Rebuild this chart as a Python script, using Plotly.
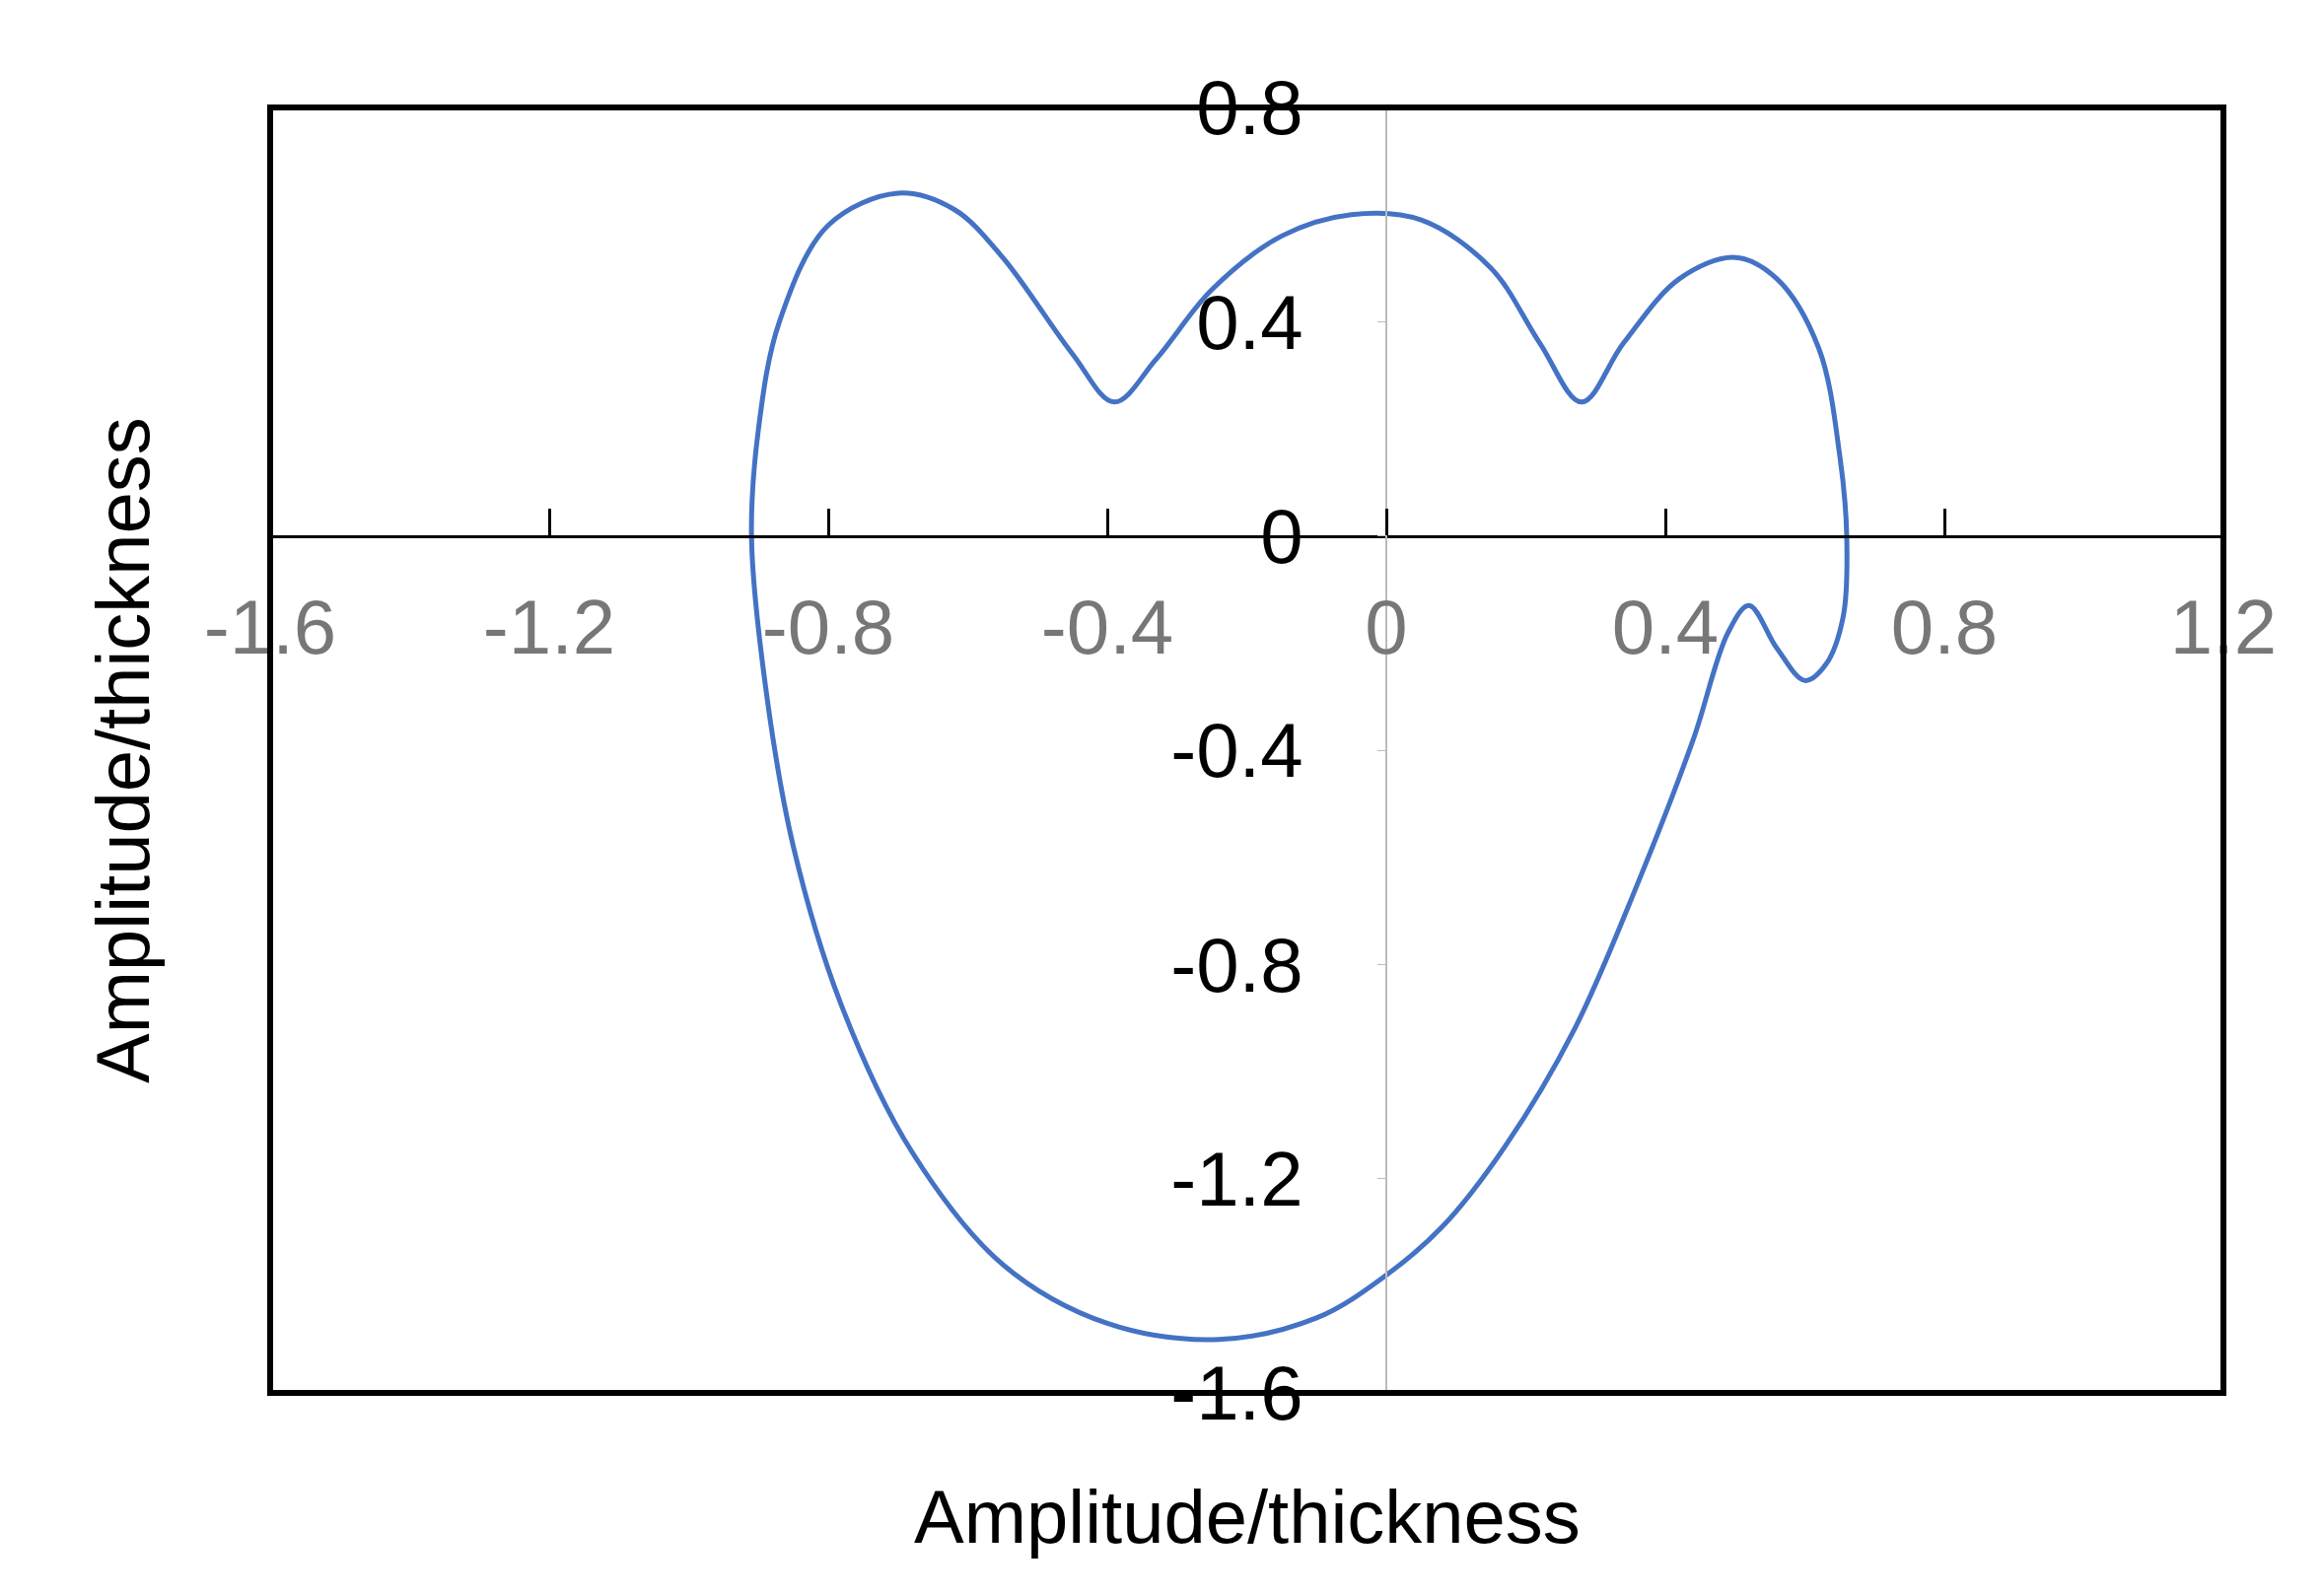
import plotly.graph_objects as go

x_vals = [-0.91, -0.90, -0.87, -0.80, -0.70, -0.62, -0.55, -0.45, -0.39, -0.33, -0.25, -0.15, -0.05, 0.05, 0.15, 0.22, 0.28, 0.34, 0.42, 0.50, 0.56, 0.62, 0.65, 0.66,
          0.655, 0.63, 0.60, 0.56, 0.52, 0.49, 0.44, 0.36, 0.27, 0.17, 0.08, 0.0, -0.1, -0.24, -0.40, -0.55, -0.68, -0.78, -0.85, -0.89, -0.91]
y_vals = [0.0, 0.2, 0.4, 0.58, 0.64, 0.61, 0.52, 0.34, 0.25, 0.33, 0.46, 0.56, 0.60, 0.59, 0.50, 0.36, 0.25, 0.36, 0.48, 0.52, 0.48, 0.35, 0.15, 0.0,
          -0.15, -0.24, -0.27, -0.21, -0.13, -0.18, -0.38, -0.65, -0.92, -1.14, -1.29, -1.38, -1.46, -1.50, -1.47, -1.36, -1.15, -0.88, -0.58, -0.28, 0.0]
x_ticks = [-1.6, -1.2, -0.8, -0.4, 0, 0.4, 0.8, 1.2]
x_tick_text = ["-1.6", "-1.2", "-0.8", "-0.4", "0", "0.4", "0.8", "1.2"]
y_ticks = [-1.6, -1.2, -0.8, -0.4, 0, 0.4, 0.8]
y_tick_text = ["-1.6", "-1.2", "-0.8", "-0.4", "0", "0.4", "0.8"]
axis_title = "Amplitude/thickness"

fig = go.Figure(go.Scatter(x=x_vals, y=y_vals, mode="lines",
                           line=dict(color="#4472C4", width=5, shape="spline", smoothing=1.0)))
fnt = "Liberation Sans, Arial, sans-serif"
fig.update_layout(
    width=2357, height=1618, plot_bgcolor="white", paper_bgcolor="white",
    margin=dict(l=266, r=110, t=101, b=213), showlegend=False,
    xaxis=dict(range=[-1.6, 1.2], tickvals=x_ticks, ticktext=x_tick_text, showgrid=False, zeroline=False,
               anchor="free", position=2/3, showline=True, linecolor="black", linewidth=3,
               ticks="inside", ticklen=27, tickwidth=3, tickcolor="black",
               tickfont=dict(family=fnt, size=78, color="#777777"), ticklabelstandoff=24),
    yaxis=dict(range=[-1.6, 0.8], tickvals=y_ticks, ticktext=y_tick_text, showgrid=False, zeroline=False,
               anchor="free", position=1.6/2.8, showline=True, linecolor="#BBBBBB", linewidth=1.5,
               ticks="outside", ticklen=8, tickcolor="#BBBBBB",
               tickfont=dict(family=fnt, size=78, color="black"), ticklabelstandoff=60),
    shapes=[dict(type="rect", xref="paper", yref="paper", x0=0, x1=1, y0=0, y1=1,
                 line=dict(color="black", width=6), layer="above")],
    annotations=[
        dict(text=axis_title, xref="paper", yref="paper", x=0.5, y=0, yshift=-125, yanchor="middle",
             showarrow=False, font=dict(family=fnt, size=76, color="black")),
        dict(text=axis_title, xref="paper", yref="paper", x=0, y=0.5, xshift=-150, xanchor="center",
             textangle=-90, showarrow=False, font=dict(family=fnt, size=76, color="black")),
    ],
)
fig.write_html("out.html")
